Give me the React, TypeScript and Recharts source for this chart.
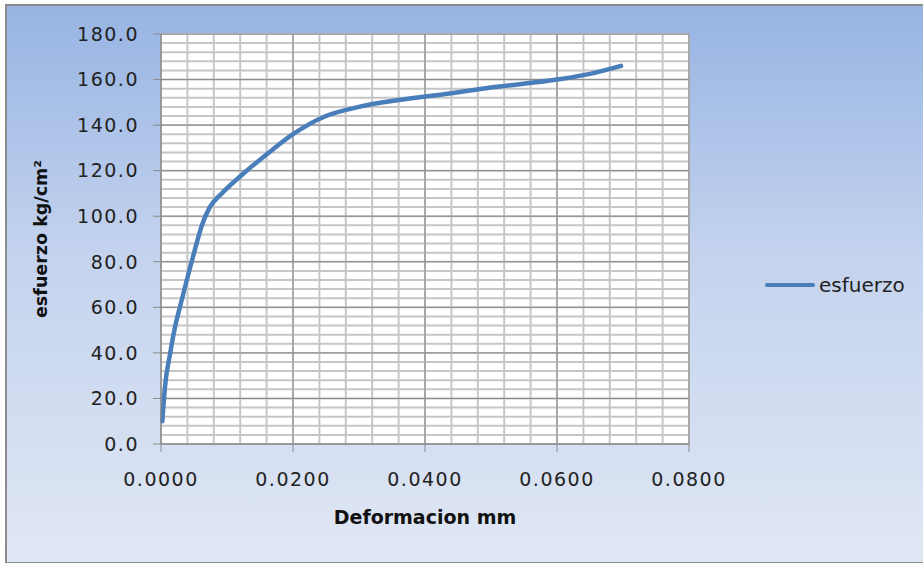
import React from "react"
import { LineChart, Line, XAxis, YAxis, CartesianGrid } from "recharts"

// deformacion (mm) vs esfuerzo (kg/cm²)
const deformacion = [
  0.0002, 0.0006, 0.0014, 0.0021, 0.0029, 0.0036, 0.0045, 0.0052, 0.0062,
  0.0074, 0.0092, 0.0122, 0.0168, 0.02, 0.025, 0.03, 0.036, 0.044, 0.05,
  0.06, 0.065, 0.0697,
]
const esfuerzo = [
  10, 25, 40, 51, 60.5, 68.5, 78.5, 86, 96, 104, 110, 118, 129, 136, 144,
  148, 151, 154, 156.5, 160, 162.5, 166,
]

const xTicks = [0, 0.02, 0.04, 0.06, 0.08]
const yTicks = [0, 20, 40, 60, 80, 100, 120, 140, 160, 180]

// minor grid every 1/5 of a major step
const xMinor = Array.from({ length: 21 }, (_, i) => i * 0.004)
const yMinor = Array.from({ length: 46 }, (_, i) => i * 4)

const data = deformacion.map((d, i) => ({ x: d, esfuerzo: esfuerzo[i] }))

const FONT = "'DejaVu Sans', sans-serif"

// eslint-disable-next-line @typescript-eslint/no-explicit-any
const applyScale = (axis: any, v: number) => {
  const s = axis?.scale
  if (typeof s === "function") return s(v)
  if (s && typeof s.map === "function") return s.map(v)
  return 0
}

export default function App() {
  return (
    <div style={{ position: "absolute", left: 0, top: 0, width: 923, height: 563 }}>
      <div
        style={{
          position: "absolute",
          left: 5,
          top: 4,
          width: 920,
          height: 556,
          border: "2px solid #8c8c8c",
          background:
            "linear-gradient(to bottom, #97b4e3 0%, #c4d3ee 45%, #e0e7f4 100%)",
        }}
      />
      <div style={{ position: "absolute", left: 0, top: 0 }}>
        <LineChart
          width={923}
          height={563}
          data={data}
          margin={{ top: 34, right: 234, bottom: 59, left: 101 }}
        >
          <CartesianGrid
            fill="#ffffff"
            stroke="#c6c6c6"
            strokeWidth={2}
            // eslint-disable-next-line @typescript-eslint/no-explicit-any
            horizontalCoordinatesGenerator={({ yAxis }: any) =>
              yMinor.map((v) => applyScale(yAxis, v))
            }
            // eslint-disable-next-line @typescript-eslint/no-explicit-any
            verticalCoordinatesGenerator={({ xAxis }: any) =>
              xMinor.map((v) => applyScale(xAxis, v))
            }
          />
          <CartesianGrid
            stroke="#8a8a8a"
            strokeWidth={1}
            horizontalValues={yTicks}
            verticalValues={xTicks}
          />
          <XAxis
            dataKey="x"
            type="number"
            domain={[0, 0.08]}
            ticks={xTicks}
            tickFormatter={(v) => Number(v).toFixed(4)}
            tick={{ fill: "#222", fontSize: 19, fontFamily: FONT, letterSpacing: 1.5 }}
            tickSize={8}
            tickMargin={21}
            stroke="#8a8a8a"
            height={60}
            label={{
              value: "Deformacion mm",
              position: "insideBottom",
              offset: -20,
              fill: "#111",
              fontSize: 19,
              fontWeight: "bold",
              fontFamily: FONT,
            }}
          />
          <YAxis
            type="number"
            domain={[0, 180]}
            ticks={yTicks}
            tickFormatter={(v) => Number(v).toFixed(1)}
            tick={{ fill: "#222", fontSize: 19, fontFamily: FONT, letterSpacing: 1.5 }}
            tickSize={8}
            tickMargin={14}
            stroke="#8a8a8a"
            width={60}
            label={{
              value: "esfuerzo kg/cm²",
              angle: -90,
              position: "center",
              dx: -90,
              fill: "#111",
              fontSize: 17.5,
              fontWeight: "bold",
              fontFamily: FONT,
            }}
          />
          <Line
            type="monotone"
            dataKey="esfuerzo"
            name="esfuerzo"
            stroke="#4a7ebb"
            strokeWidth={4.5}
            strokeLinecap="round"
            dot={false}
            isAnimationActive={false}
          />
        </LineChart>
      </div>
      <div
        style={{
          position: "absolute",
          left: 765,
          top: 273,
          display: "flex",
          alignItems: "center",
          fontFamily: FONT,
        }}
      >
        <span
          style={{
            display: "inline-block",
            width: 50,
            height: 4,
            background: "#4a7ebb",
            borderRadius: 2,
            marginRight: 4,
          }}
        />
        <span style={{ fontSize: 20, color: "#222" }}>esfuerzo</span>
      </div>
    </div>
  )
}
